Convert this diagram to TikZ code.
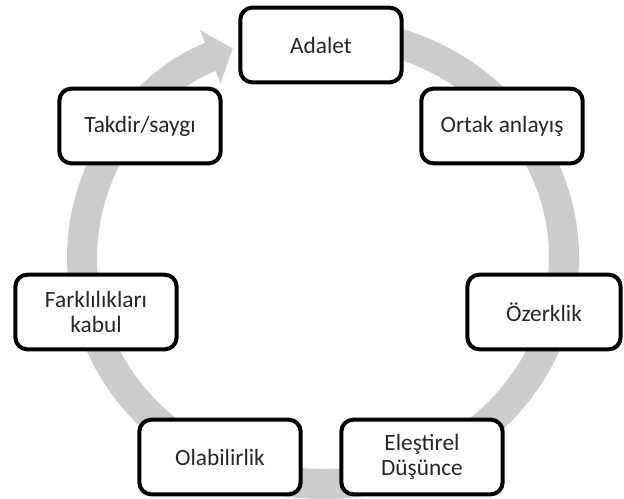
\documentclass[tikz,border=0pt]{standalone}
\usepackage{fontspec}
\setmainfont{Carlito}
\usetikzlibrary{arrows.meta}
\begin{document}
\begin{tikzpicture}[x = 0.75pt, y = -0.75pt,
  kutu/.style = {draw = black, fill = white, line width = 3pt, rounded corners = 9pt,
                 minimum width = 121pt, minimum height = 56pt, align = center,
                 text = black!85, inner sep = 2pt},
  halka/.style = {draw = black!20, line width = 22.5pt, -{Triangle[length = 18pt, width = 42pt]}}]
\fontsize{17.5pt}{18.5pt}\selectfont
\useasboundingbox (0,0) rectangle (624,499);
\coordinate (merkez) at (323,258);
\draw[halka] (merkez) ++(-85:241 and 226) arc[start angle = -85, end angle = 248, x radius = 241, y radius = 226];
\node[kutu] (adalet) at (321,45) {Adalet};
\node[kutu] (ortak) at (502,126) {Ortak anlayış};
\node[kutu, minimum width = 115pt] (ozerklik) at (544,312) {Özerklik};
\node[kutu] (elestirel) at (422,457) {Eleştirel\\Düşünce};
\node[kutu] (olabilirlik) at (220,457) {Olabilirlik};
\node[kutu] (farklilik) at (96,312) {Farklılıkları\\kabul};
\node[kutu] (takdir) at (140,126) {Takdir/saygı};
\end{tikzpicture}
\end{document}
